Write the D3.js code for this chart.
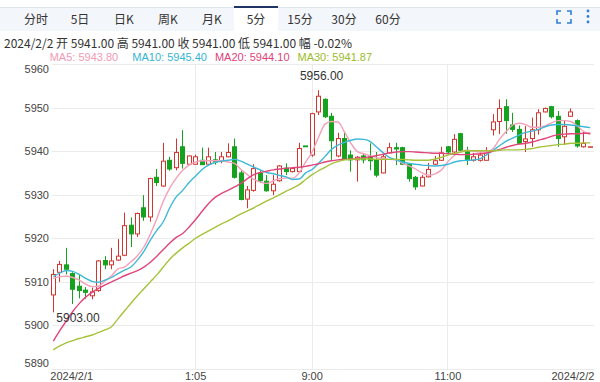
<!DOCTYPE html>
<html><head><meta charset="utf-8">
<script src="https://cdn.jsdelivr.net/npm/d3@7"></script>
<style>body{margin:0;background:#fff;} svg{display:block;}</style>
</head><body><svg id="c" width="600" height="382"></svg>
<script>
// ---------- DATA ----------
const tabLabels = ["分时","5日","日K","周K","月K","5分","15分","30分","60分"];
const selectedTab = "5分";
const infoDate = "2024/2/2";
const infoLabels = ["开","高","收","低"];
const infoValues = [5941.00, 5941.00, 5941.00, 5941.00];
const infoChangeLabel = "幅";
const infoChange = "-0.02%";
const legendLabels = ["MA5","MA10","MA20","MA30"];
const legendValues = [5943.80, 5945.40, 5944.10, 5941.87];
const yTicks = [5890,5900,5910,5920,5930,5940,5950,5960];
const xTickIdx = [0, 22, 40, 61, 83];
const xTickLabels = ["2024/2/1","1:05","9:00","11:00","2024/2/2"];
const highLabel = 5956.00;
const lowLabel = 5903.00;

const opens = [5907.0,5912.2,5913.9,5911.9,5909.0,5908.1,5906.8,5908.0,5914.9,5913.9,
 5915.0,5916.1,5923.0,5921.0,5927.0,5924.9,5934.0,5932.0,5937.9,5936.2,
 5941.0,5937.0,5937.0,5937.9,5937.0,5938.0,5937.8,5938.7,5941.0,5935.0,
 5929.0,5931.0,5934.9,5933.1,5930.9,5933.2,5936.1,5935.3,5935.3,5941.2,
 5939.1,5949.0,5951.9,5948.0,5938.9,5942.9,5939.1,5938.0,5938.9,5938.6,
 5938.0,5935.0,5939.6,5940.8,5940.8,5937.0,5934.0,5932.0,5934.1,5937.0,
 5937.9,5941.0,5939.8,5944.0,5940.0,5937.9,5937.9,5937.9,5944.9,5946.8,
 5950.2,5946.0,5945.0,5942.2,5942.9,5944.9,5949.0,5950.2,5948.0,5943.3,
 5948.0,5947.0,5941.0,5941.0];
const closes = [5911.7,5914.0,5912.9,5908.3,5908.0,5907.6,5907.7,5914.8,5913.9,5914.8,
 5915.9,5922.9,5921.0,5925.7,5924.9,5933.7,5932.8,5937.7,5935.9,5939.7,
 5937.2,5938.9,5938.7,5936.9,5938.7,5937.5,5938.7,5939.7,5934.0,5928.9,
 5931.1,5936.0,5933.2,5930.9,5932.4,5936.6,5935.3,5936.0,5940.6,5941.0,
 5948.6,5952.6,5947.9,5942.4,5942.9,5938.1,5938.0,5938.6,5938.0,5937.8,
 5934.5,5938.7,5940.8,5940.5,5937.0,5933.7,5931.8,5934.0,5935.8,5937.8,
 5939.6,5939.8,5942.7,5940.2,5937.9,5938.7,5939.1,5939.6,5946.7,5949.8,
 5947.0,5945.0,5941.8,5942.8,5944.9,5948.8,5949.8,5947.9,5942.9,5945.7,
 5949.0,5941.2,5941.8,5941.0];
const highs = [5912.9,5914.8,5917.8,5912.2,5911.7,5908.8,5908.7,5915.0,5915.9,5917.8,
 5919.8,5925.9,5924.8,5925.9,5929.9,5933.9,5935.9,5941.9,5938.7,5942.9,
 5944.8,5939.0,5939.2,5940.8,5940.8,5939.8,5939.8,5941.8,5942.9,5935.6,
 5932.0,5937.0,5935.6,5934.5,5934.5,5936.8,5937.2,5936.3,5941.9,5941.2,
 5948.8,5954.0,5952.1,5948.8,5944.2,5944.4,5940.2,5938.9,5939.5,5941.8,
 5939.8,5939.3,5941.9,5941.9,5941.0,5937.2,5934.3,5934.5,5937.3,5938.9,
 5941.0,5941.2,5943.9,5944.2,5941.0,5939.6,5940.0,5940.9,5948.5,5951.9,
 5951.9,5948.8,5945.9,5945.8,5947.7,5949.6,5950.0,5950.4,5949.2,5947.1,
 5949.8,5947.3,5944.4,5941.0];
const lows = [5903.0,5910.0,5911.7,5904.9,5906.2,5906.1,5906.0,5907.7,5912.9,5912.9,
 5914.8,5915.9,5918.0,5920.3,5924.0,5923.8,5932.0,5931.8,5935.5,5935.6,
 5936.0,5936.9,5936.9,5936.8,5936.9,5936.9,5937.2,5938.6,5933.7,5928.7,
 5926.9,5930.7,5932.8,5930.7,5929.9,5933.0,5934.5,5935.1,5935.1,5941.0,
 5938.7,5948.3,5947.6,5938.0,5938.6,5938.0,5935.3,5933.0,5937.2,5935.6,
 5934.0,5934.9,5939.5,5936.8,5936.8,5933.0,5931.1,5931.9,5934.0,5936.8,
 5937.8,5939.3,5939.6,5940.0,5936.8,5937.6,5937.6,5937.8,5943.6,5943.9,
 5944.0,5944.4,5941.6,5939.8,5941.0,5943.8,5948.9,5947.5,5941.0,5941.4,
 5947.9,5940.8,5940.8,5941.0];

const ma5 = [5910.8,5911.2,5911.3,5911.0,5910.4,5909.5,5908.9,5909.0,5910.2,5911.4,
 5913.0,5913.4,5914.6,5916.0,5918.0,5921.0,5924.5,5928.5,5931.5,5933.8,
 5935.6,5936.8,5937.5,5937.8,5937.8,5937.8,5937.8,5937.5,5937.2,5935.8,
 5934.6,5933.5,5932.9,5932.6,5933.2,5933.7,5933.8,5933.8,5935.0,5937.5,
 5939.8,5943.2,5946.2,5946.8,5946.7,5944.4,5941.8,5939.9,5939.4,5938.9,
 5938.5,5938.3,5938.1,5938.0,5937.2,5936.6,5935.9,5935.0,5934.5,5934.8,
 5935.7,5937.6,5939.0,5939.9,5940.2,5940.0,5939.8,5939.8,5940.6,5942.8,
 5944.5,5946.0,5946.4,5946.1,5945.5,5945.5,5945.8,5946.5,5947.0,5947.0,
 5946.8,5945.8,5944.5,5943.8];
const ma10 = [5911.2,5912.0,5912.6,5912.4,5911.7,5910.8,5910.1,5909.9,5910.4,5911.0,
 5911.9,5912.7,5913.4,5915.0,5917.0,5919.6,5921.8,5923.8,5927.0,5929.5,
 5931.0,5932.8,5934.3,5935.8,5936.8,5937.4,5937.7,5937.9,5938.1,5937.7,
 5937.0,5936.3,5935.7,5935.1,5934.8,5934.4,5934.1,5933.5,5933.6,5935.0,
 5935.8,5937.2,5938.8,5940.4,5941.4,5942.0,5942.5,5942.8,5942.7,5942.2,
 5940.9,5939.6,5938.5,5938.0,5937.5,5937.2,5937.0,5936.8,5936.7,5936.6,
 5936.7,5937.0,5937.5,5937.8,5937.9,5938.0,5938.3,5939.2,5940.2,5941.3,
 5942.3,5943.0,5943.7,5944.3,5944.6,5945.0,5945.6,5946.0,5946.1,5946.1,
 5946.0,5945.8,5945.6,5945.4];
const ma20 = [5896.4,5898.8,5901.0,5903.2,5905.0,5906.5,5907.6,5908.5,5909.3,5910.0,
 5910.7,5911.4,5912.0,5912.6,5913.4,5914.5,5915.9,5917.4,5918.9,5920.2,
 5921.1,5922.6,5924.3,5926.2,5928.0,5929.4,5930.3,5931.0,5931.8,5932.6,
 5933.7,5934.6,5935.1,5935.4,5935.7,5935.9,5936.1,5936.2,5936.3,5936.5,
 5936.8,5937.1,5937.5,5937.8,5938.0,5938.1,5938.2,5938.3,5938.5,5938.7,
 5939.0,5939.3,5939.6,5939.8,5939.9,5939.9,5939.8,5939.7,5939.6,5939.5,
 5939.5,5939.4,5939.3,5939.2,5939.2,5939.3,5939.4,5939.6,5940.0,5940.4,
 5940.9,5941.3,5941.6,5941.8,5942.1,5942.5,5942.9,5943.4,5943.8,5943.9,
 5944.0,5944.0,5944.1,5944.1];
const ma30 = [5894.4,5895.3,5896.0,5896.5,5897.0,5897.4,5897.8,5898.4,5899.0,5899.7,
 5901.5,5903.3,5905.1,5906.8,5908.4,5910.0,5911.6,5913.4,5915.2,5916.6,
 5917.8,5918.9,5920.0,5920.9,5921.7,5922.5,5923.3,5924.0,5924.8,5925.6,
 5926.3,5927.0,5927.8,5928.6,5929.3,5930.0,5930.8,5931.5,5932.3,5933.5,
 5934.6,5935.5,5936.3,5937.1,5937.6,5938.0,5938.1,5938.2,5938.2,5938.2,
 5938.1,5938.1,5938.1,5938.1,5938.1,5938.0,5937.9,5937.9,5937.9,5938.2,
 5938.6,5939.1,5939.5,5939.8,5940.1,5940.1,5940.1,5940.1,5940.1,5940.2,
 5940.3,5940.3,5940.3,5940.4,5940.6,5940.9,5941.1,5941.3,5941.5,5941.6,
 5941.8,5941.8,5941.9,5941.9];

// ---------- STYLE ----------
const UP = "#d2352d", DOWN = "#15a21f";
const maColors = ["#f4a0b8", "#3fb9d8", "#e0457b", "#a5c33a"];
const legendColors = ["#f29ab3", "#36b4d3", "#df3f77", "#9bbc2a"];
const numFont = "'Liberation Sans', Arial, sans-serif";
const cjkFont = "'Noto Sans CJK SC', 'Noto Sans', sans-serif";

const svg = d3.select("#c");
const plotL = 52, plotR = 594, plotT = 64, plotB = 369;

svg.append("rect").attr("width",600).attr("height",382).attr("fill","#fff");

// ---------- TAB BAR ----------
const tabX = d3.scaleBand().domain(tabLabels).range([14, 410]);
svg.append("rect").attr("x",0).attr("y",7).attr("width",600).attr("height",24).attr("fill","#f3f6fa");
svg.append("line").attr("x1",0).attr("x2",600).attr("y1",7.5).attr("y2",7.5).attr("stroke","#dde4ec");
svg.append("rect").attr("x",tabX(selectedTab)).attr("y",6).attr("width",tabX.bandwidth()).attr("height",25).attr("fill","#fff");
svg.append("rect").attr("x",tabX(selectedTab)).attr("y",6).attr("width",tabX.bandwidth()).attr("height",2).attr("fill","#1f3566");
svg.selectAll("text.tab").data(tabLabels).join("text").attr("class","tab")
  .attr("x", d => tabX(d) + tabX.bandwidth()/2).attr("y", 24)
  .attr("text-anchor","middle").attr("fill","#333")
  .style("font", `12px ${cjkFont}`).text(d => d);
// fullscreen icon
const ic = svg.append("g").attr("stroke","#2f7fd8").attr("stroke-width",1.6).attr("fill","none");
[[557,11,1,1],[571,11,-1,1],[557,23,1,-1],[571,23,-1,-1]].forEach(([cx,cy,sx,sy])=>{
  ic.append("path").attr("d",`M${cx},${cy+4*sy} L${cx},${cy} L${cx+4*sx},${cy}`);
});
[11,16.5,22].forEach(cy => svg.append("circle").attr("cx",588).attr("cy",cy).attr("r",1.4).attr("fill","#2f7fd8"));

// ---------- INFO + LEGEND ----------
const info = svg.append("text").attr("x",4).attr("y",48).attr("fill","#333").style("font", `12px ${cjkFont}`);
let infoStr = infoDate;
infoLabels.forEach((l,i)=>{ infoStr += " " + l + " " + infoValues[i].toFixed(2); });
infoStr += " " + infoChangeLabel + " " + infoChange;
info.text(infoStr);

legendLabels.forEach((l,i)=>{
  svg.append("text").attr("x", 49.7 + i*82.6).attr("y", 61).attr("fill", legendColors[i])
    .style("font", `11px ${numFont}`).text(`${l}: ${legendValues[i].toFixed(2)}`);
});

// ---------- SCALES ----------
const n = opens.length;
const x = d3.scaleBand().domain(d3.range(n)).range([50.07, 593.55]).paddingInner(0.25).paddingOuter(0.125);
const y = d3.scaleLinear().domain([5890, 5960]).range([plotB, plotT]);
const cx = i => x(i) + x.bandwidth()/2;

// ---------- AXES / GRID ----------
const gy = svg.append("g").attr("transform",`translate(${plotL},0)`)
  .call(d3.axisLeft(y).tickValues(yTicks).tickSize(-(plotR-plotL)).tickPadding(3).tickFormat(d3.format("d")));
gy.select(".domain").remove();
gy.selectAll(".tick line").attr("stroke","#ebebeb").attr("shape-rendering","crispEdges");
gy.selectAll(".tick text").attr("fill","#444").style("font",`11px ${numFont}`)
  .attr("dy", d => d === yTicks[yTicks.length-1] ? "0.8em" : d === yTicks[0] ? "-0.25em" : "0.32em");

const gx = svg.append("g").attr("transform",`translate(0,${plotB})`)
  .call(d3.axisBottom(x).tickValues(xTickIdx).tickSize(-(plotB-plotT)).tickPadding(3)
    .tickFormat(d => xTickLabels[xTickIdx.indexOf(d)]));
gx.select(".domain").remove();
gx.selectAll(".tick line").attr("stroke","#ebebeb").attr("shape-rendering","crispEdges")
  .attr("opacity", (d,i) => (i === 0 || i === xTickIdx.length-1) ? 0 : 1);
gx.selectAll(".tick text").attr("fill","#444").style("font",`11px ${numFont}`)
  .attr("text-anchor", (d,i) => i === 0 ? "start" : i === xTickIdx.length-1 ? "end" : "middle")
  .attr("dx", (d,i) => i === 0 ? -3 : i === xTickIdx.length-1 ? 4 : 0);

// ---------- CANDLES ----------
const bw = Math.round(x.bandwidth());
const cg = svg.append("g");
d3.range(n).forEach(i => {
  const up = closes[i] >= opens[i];
  const col = up ? UP : DOWN;
  const left = Math.round(x(i));
  const mid = left + bw/2;
  cg.append("line").attr("x1",mid).attr("x2",mid).attr("y1",y(highs[i])).attr("y2",y(lows[i]))
    .attr("stroke",col).attr("stroke-width",1);
  const top = y(Math.max(opens[i],closes[i])), bot = y(Math.min(opens[i],closes[i]));
  const h = Math.max(bot - top, 0.5);
  cg.append("rect").attr("x", left + 0.5).attr("y", top).attr("width", bw - 1).attr("height", h)
    .attr("fill", up ? "#fff" : col).attr("stroke", col).attr("stroke-width", 1);
});

// ---------- MA LINES ----------
const line = d3.line().x((d,i) => cx(i)).y(d => y(d)).curve(d3.curveMonotoneX);
[ma5, ma10, ma20, ma30].forEach((arr, k) => {
  svg.append("path").datum(arr).attr("d", line).attr("fill","none")
    .attr("stroke", maColors[k]).attr("stroke-width", 1.4);
});

// ---------- HIGH / LOW LABELS ----------
const hiIdx = d3.maxIndex(highs), loIdx = d3.minIndex(lows);
svg.append("text").attr("x", cx(hiIdx) + 3).attr("y", y(highs[hiIdx]) - 10).attr("text-anchor","middle")
  .attr("fill","#333").style("font",`12px ${numFont}`).text(highLabel.toFixed(2));
svg.append("text").attr("x", cx(loIdx) + 3).attr("y", y(lows[loIdx]) + 10).attr("text-anchor","start")
  .attr("fill","#333").style("font",`12px ${numFont}`).text(lowLabel.toFixed(2));
</script>
</body></html>
